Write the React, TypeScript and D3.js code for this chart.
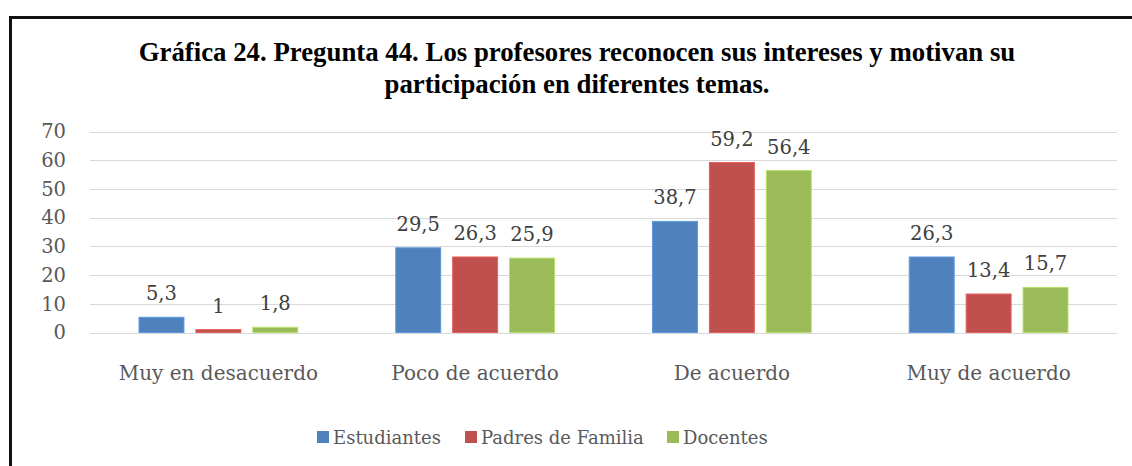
import React, { useEffect, useRef } from "react"
import * as d3 from "d3"

const categories = ["Muy en desacuerdo", "Poco de acuerdo", "De acuerdo", "Muy de acuerdo"]
const seriesNames = ["Estudiantes", "Padres de Familia", "Docentes"]
const colors = ["#4F81BD", "#C0504D", "#9BBB59"]
const estudiantes = [5.3, 29.5, 38.7, 26.3]
const padres = [1, 26.3, 59.2, 13.4]
const docentes = [1.8, 25.9, 56.4, 15.7]
const yTicks = [0, 10, 20, 30, 40, 50, 60, 70]
const titleLines = [
  "Gráfica 24. Pregunta 44. Los profesores reconocen sus intereses y motivan su",
  "participación en diferentes temas.",
]

const W = 1132
const H = 466

const App = () => {
  const svgRef = useRef<SVGSVGElement | null>(null)

  useEffect(() => {
    if (!svgRef.current) return
    const svg = d3.select(svgRef.current)
    svg.selectAll("*").remove()

    const values = [estudiantes, padres, docentes]
    const textColor = "#595959"
    const font = "'DejaVu Serif', serif"

    // frame
    svg.append("path")
      .attr("d", `M10.5,${H} V17.5 H${W}`)
      .attr("fill", "none")
      .attr("stroke", "#111")
      .attr("stroke-width", 3)

    // title
    svg.append("text")
      .attr("x", 577)
      .attr("text-anchor", "middle")
      .attr("font-family", "'Liberation Serif', serif")
      .attr("font-weight", "bold")
      .attr("font-size", 26.8)
      .attr("fill", "#000")
      .selectAll("tspan")
      .data(titleLines)
      .enter()
      .append("tspan")
      .attr("x", 577)
      .attr("y", (d, i) => 61 + i * 32)
      .text(d => d)

    const x = d3.scaleBand().domain(categories).range([90, 1117])
    const bw = x.bandwidth()
    const xs = d3.scaleBand().domain(seriesNames).range([49, bw - 49]).paddingInner(0.21)
    const y = d3.scaleLinear().domain([0, 70]).range([332.5, 131.5])

    // gridlines
    svg.append("g")
      .selectAll("line")
      .data(yTicks)
      .enter()
      .append("line")
      .attr("x1", 90)
      .attr("x2", 1117)
      .attr("y1", d => Math.round(y(d)) + 0.5)
      .attr("y2", d => Math.round(y(d)) + 0.5)
      .attr("stroke", "#D9D9D9")
      .attr("stroke-width", 1)

    // y labels
    svg.append("g")
      .selectAll("text")
      .data(yTicks)
      .enter()
      .append("text")
      .attr("x", 66)
      .attr("y", d => y(d))
      .attr("dy", "0.35em")
      .attr("text-anchor", "end")
      .attr("font-family", font)
      .attr("font-size", 19.5)
      .attr("fill", textColor)
      .text(d => d)

    // bars
    const groups = svg.append("g")
      .selectAll("g")
      .data(categories)
      .enter()
      .append("g")
      .attr("transform", d => `translate(${x(d)},0)`)

    seriesNames.forEach((s, si) => {
      groups.append("rect")
        .attr("x", xs(s)!)
        .attr("width", xs.bandwidth())
        .attr("y", (d, i) => y(values[si][i]))
        .attr("height", (d, i) => y(0) - y(values[si][i]))
        .attr("fill", colors[si])
        .attr("stroke", d3.color(colors[si])!.brighter(0.5).toString())
        .attr("stroke-width", 1)

      groups.append("text")
        .attr("x", xs(s)! + xs.bandwidth() / 2)
        .attr("y", (d, i) => y(values[si][i]) - 17)
        .attr("text-anchor", "middle")
        .attr("font-family", font)
        .attr("font-size", 19.5)
        .attr("fill", "#404040")
        .text((d, i) => String(values[si][i]).replace(".", ","))
    })

    // category labels
    svg.append("g")
      .selectAll("text")
      .data(categories)
      .enter()
      .append("text")
      .attr("x", d => x(d)! + bw / 2)
      .attr("y", 380)
      .attr("text-anchor", "middle")
      .attr("font-family", font)
      .attr("font-size", 20)
      .attr("fill", textColor)
      .text(d => d)

    // legend
    const legendPos = [317, 465, 667]
    const legend = svg.append("g")
      .selectAll("g")
      .data(seriesNames)
      .enter()
      .append("g")
      .attr("transform", (d, i) => `translate(${legendPos[i]},431)`)

    legend.append("rect")
      .attr("width", 12)
      .attr("height", 12)
      .attr("fill", (d, i) => colors[i])

    legend.append("text")
      .attr("x", 16)
      .attr("y", 13)
      .attr("font-family", font)
      .attr("font-size", 18)
      .attr("fill", textColor)
      .text(d => d)
  }, [])

  return (
    <svg
      ref={svgRef}
      width={W}
      height={H}
      style={{ position: "absolute", left: 0, top: 0, background: "#fff" }}
    ></svg>
  )
}

export default App
